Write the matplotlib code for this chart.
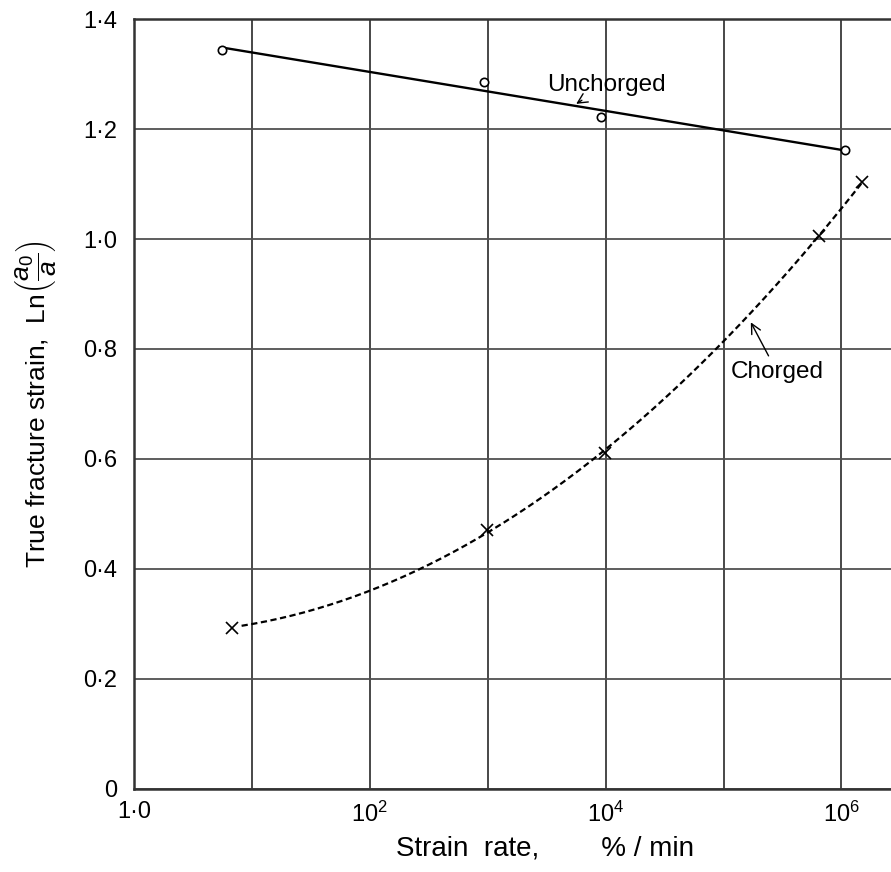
#coding:utf-8

import numpy as np
import matplotlib
matplotlib.use('Agg')
import matplotlib.pyplot as plt

plt.rcParams['font.family'] = ['Liberation Sans', 'DejaVu Sans']
plt.rcParams['mathtext.fontset'] = 'custom'
plt.rcParams['mathtext.rm'] = 'Liberation Sans'
plt.rcParams['mathtext.it'] = 'Liberation Sans:italic'

# strain rate (%/min) and true fracture strain
uncharged_rate = [5.6, 925, 9100, 1.07e6]
uncharged_strain = [1.344, 1.285, 1.222, 1.162]

charged_rate = [6.8, 980, 9800, 6.5e5, 1.48e6]
charged_strain = [0.293, 0.471, 0.611, 1.005, 1.104]

xtick_pos = [1, 1e2, 1e4, 1e6]
xtick_labels = ['1\u00b70', '10$^2$', '10$^4$', '10$^6$']
ytick_pos = [0, 0.2, 0.4, 0.6, 0.8, 1.0, 1.2, 1.4]
ytick_labels = ['0', '0\u00b72', '0\u00b74', '0\u00b76', '0\u00b78', '1\u00b70', '1\u00b72', '1\u00b74']

fig = plt.figure(figsize=(8.91, 8.72), dpi=100)
ax = fig.add_axes([0.1504, 0.0952, 0.8496, 0.883])
ax.set_xscale('log')
ax.set_xlim(1, 10 ** 6.42)
ax.set_ylim(0, 1.4)

# grid: every decade and every 0.2
ax.xaxis.set_minor_locator(matplotlib.ticker.NullLocator())
ax.grid(True, axis='y', color='#505050', lw=1.3)
for k in range(0, 7):
    ax.axvline(10.0 ** k, color='#484848', lw=1.4, zorder=0)
ax.set_xticks(xtick_pos)
ax.set_xticklabels(xtick_labels, fontsize=17)
ax.set_yticks(ytick_pos)
ax.set_yticklabels(ytick_labels, fontsize=17)
ax.tick_params(axis='x', length=0, pad=9)
ax.tick_params(axis='y', length=0, pad=12)
ax.spines['right'].set_visible(False)
for s in ['left', 'bottom', 'top']:
    ax.spines[s].set_linewidth(1.8)
    ax.spines[s].set_color('#333333')

# uncharged: straight line fitted in log(rate)
lx = np.log10(uncharged_rate)
k, b = np.polyfit(lx, uncharged_strain, 1)
xx = np.array([lx[0], lx[-1]])
ax.plot(10 ** xx, k * xx + b, color='black', lw=1.7, zorder=3)
ax.plot(uncharged_rate, uncharged_strain, 'o', ms=6, mfc='white', mec='black', mew=1.2, zorder=4)

# charged: smooth dashed curve
cx = np.log10(charged_rate)
p = np.polyfit(cx, charged_strain, 2)
xx = np.linspace(cx[0] + 0.08, cx[-1], 200)
ax.plot(10 ** xx, np.polyval(p, xx), color='black', lw=1.6, dashes=(2.8, 1.6), zorder=3)
ax.plot(charged_rate, charged_strain, 'x', ms=8, color='black', mew=1.2, zorder=4)

ax.annotate('Unchorged', xy=(10 ** 3.73, 1.243), xytext=(10 ** 3.5, 1.28),
            fontsize=17.5, ha='left', va='center',
            arrowprops=dict(arrowstyle='->', color='black', lw=1))
ax.annotate('Chorged', xy=(10 ** 5.22, 0.853), xytext=(10 ** 5.06, 0.758),
            fontsize=17.5, ha='left', va='center',
            arrowprops=dict(arrowstyle='->', color='black', lw=1))

ax.set_xlabel('Strain  rate,        % / min', fontsize=20, labelpad=6, x=0.543)
ax.set_ylabel(r'True fracture strain,  Ln$\left(\dfrac{a_0}{a}\right)$', fontsize=19, labelpad=18)

plt.savefig('out.png', dpi=100)
